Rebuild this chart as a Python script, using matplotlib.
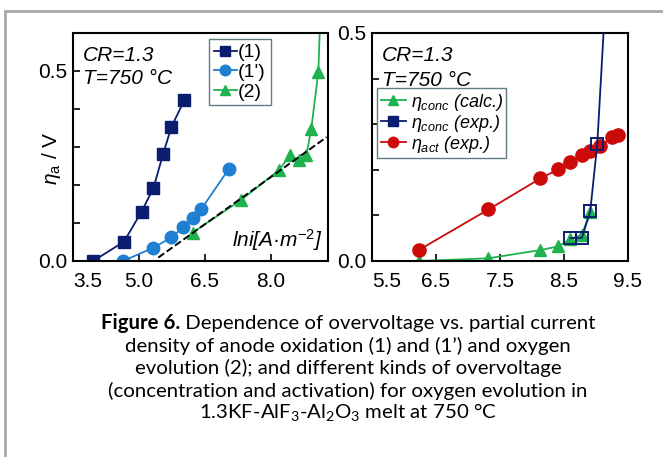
import matplotlib
matplotlib.use("Agg")
import matplotlib.pyplot as plt
from matplotlib.lines import Line2D
from matplotlib.patches import Rectangle
from matplotlib.transforms import ScaledTranslation

plt.rcParams['font.family'] = ['Liberation Sans', 'DejaVu Sans']
plt.rcParams['mathtext.fontset'] = 'custom'
plt.rcParams['mathtext.it'] = 'Liberation Sans:italic'
plt.rcParams['mathtext.rm'] = 'Liberation Sans'

# ---- left panel: eta_a vs ln i
x1 = [3.96, 4.66, 5.06, 5.33, 5.55, 5.74, 6.03]
y1 = [0.0, 0.051, 0.130, 0.192, 0.282, 0.353, 0.423]

x1p = [4.64, 5.33, 5.74, 6.01, 6.23, 6.42, 7.05]
y1p = [0.0, 0.035, 0.062, 0.090, 0.113, 0.137, 0.243]

x2 = [6.22, 7.33, 8.19, 8.43, 8.64, 8.81, 8.92, 9.08]
y2 = [0.075, 0.161, 0.240, 0.278, 0.265, 0.280, 0.348, 0.498]
x2_tail = [9.14]
y2_tail = [0.70]

tafel_x = [5.44, 9.27]
tafel_y = [0.009, 0.326]

left_xticks = [3.5, 5.0, 6.5, 8.0]

# ---- right panel: kinds of overvoltage
xc_calc = [6.23, 7.32, 8.13, 8.41, 8.60, 8.78, 8.91]
yc_calc = [0.0, 0.006, 0.024, 0.032, 0.048, 0.058, 0.108]

xc_exp = [8.60, 8.78, 8.91, 9.02]
yc_exp = [0.050, 0.051, 0.109, 0.257]
xc_tail = [9.15]
yc_tail = [0.58]

xa_exp = [6.23, 7.32, 8.13, 8.41, 8.60, 8.78, 8.91, 9.07, 9.25, 9.35]
ya_exp = [0.024, 0.113, 0.181, 0.201, 0.218, 0.233, 0.242, 0.253, 0.271, 0.277]

right_xticks = [5.5, 6.5, 7.5, 8.5, 9.5]

navy = '#0b1d6e'
lblue = '#1f7fd0'
green = '#1fb24f'
red = '#cc0a0a'

fig = plt.figure(figsize=(6.63, 4.57), dpi=100)
fig.patches.append(Rectangle((5 / 663, -0.1), 1.2, 1 - 11 / 457 + 0.1,
                             transform=fig.transFigure, fill=False,
                             edgecolor='#a8a8a8', lw=2))

axL = fig.add_axes([73 / 663, 1 - 261 / 457, 255 / 663, 228 / 457])
axR = fig.add_axes([372 / 663, 1 - 261 / 457, 256 / 663, 228 / 457])

axL.plot(x1, y1, '-s', color=navy, ms=8.5, lw=1.3, label='(1)')
axL.plot(x1p, y1p, '-o', color=lblue, ms=9, lw=1.3, label="(1')")
axL.plot(x2 + x2_tail, y2 + y2_tail, '-^', color=green, ms=8.5, lw=1.3,
         markevery=list(range(len(x2))), label='(2)')
axL.plot(tafel_x, tafel_y, '--', color='black', lw=1.4, zorder=3)

axL.set_xlim(3.5, 9.3)
axL.set_ylim(0, 0.6)
axL.set_xticks(left_xticks)
axL.set_xticklabels([f'{v:.1f}' for v in left_xticks])
axL.set_yticks([0.0, 0.5])
axL.set_yticklabels(['0.0', '0.5'])
axL.set_yticks([0.1, 0.2, 0.3, 0.4], minor=True)
axL.set_ylabel(r'$\eta_\mathrm{a}$ / V', fontsize=15)
axL.yaxis.set_label_coords(-0.04, 0.45)

axL.text(0.04, 0.9, 'CR=1.3', transform=axL.transAxes, fontsize=15,
         style='italic', va='center')
axL.text(0.04, 0.8, 'T=750 °C', transform=axL.transAxes, fontsize=15,
         style='italic', va='center')
axL.text(0.98, 0.09, r'lni[A·m$^{-2}$]', transform=axL.transAxes,
         fontsize=15, style='italic', ha='right', va='center')

legL = axL.legend(loc='upper left', bbox_to_anchor=(0.533, 0.974),
                  borderaxespad=0, fontsize=14, handlelength=1.2,
                  handletextpad=0.05, labelspacing=0.1, borderpad=0.25,
                  fancybox=False, framealpha=1, edgecolor='#5d7f80',
                  markerscale=0.85)
legL.get_frame().set_linewidth(1.0)

axR.plot(xc_calc, yc_calc, '-^', color=green, ms=8.5, lw=1.3, zorder=2)
axR.plot(xa_exp, ya_exp, '-o', color=red, ms=9.5, lw=1.3, zorder=3)
axR.plot(xc_exp + xc_tail, yc_exp + yc_tail, '-s', color=navy, ms=9,
         lw=1.3, mfc='none', mew=1.4, markevery=list(range(len(xc_exp))),
         zorder=4)

axR.set_xlim(5.5, 9.5)
axR.set_ylim(0, 0.5)
axR.set_xticks(right_xticks)
axR.set_xticklabels([f'{v:.1f}' for v in right_xticks])
axR.set_yticks([0.0, 0.5])
axR.set_yticklabels(['0.0', '0.5'])
axR.set_yticks([0.1, 0.2, 0.3, 0.4], minor=True)

axR.text(0.04, 0.9, 'CR=1.3', transform=axR.transAxes, fontsize=15,
         style='italic', va='center')
axR.text(0.04, 0.79, 'T=750 °C', transform=axR.transAxes, fontsize=15,
         style='italic', va='center')

handles = [
    Line2D([], [], color=green, marker='^', ms=7.5, lw=1.3),
    Line2D([], [], color=navy, marker='s', ms=7, lw=1.3),
    Line2D([], [], color=red, marker='o', ms=7.5, lw=1.3),
]
labels = [r'$\eta_{conc}$ (calc.)', r'$\eta_{conc}$ (exp.)',
          r'$\eta_{act}$ (exp.)']
legR = axR.legend(handles, labels, loc='upper left',
                  bbox_to_anchor=(0.02, 0.758), borderaxespad=0,
                  prop={'size': 13, 'style': 'italic'}, handlelength=1.4,
                  handletextpad=0.25, labelspacing=0.0, borderpad=0.2,
                  fancybox=False, framealpha=1, edgecolor='#5d7f80')
legR.get_frame().set_linewidth(1.0)

for ax in (axL, axR):
    for sp in ax.spines.values():
        sp.set_linewidth(1.5)
    ax.tick_params(which='both', direction='in', top=False, right=False,
                   labelsize=15, width=1.2, length=5, pad=4)
    ax.tick_params(axis='x', length=5, pad=8)
    # first x label sits a bit right of its tick in the original
    first = ax.get_xticklabels()[0]
    first.set_transform(first.get_transform() +
                        ScaledTranslation(0.15, 0, fig.dpi_scale_trans))

# caption
cap_font = ['Lato', 'DejaVu Sans']
cap_size = 14.7
cx = 348 / 663
line_h = 22.5 / 457
y0 = 1 - 323 / 457
renderer = fig.canvas.get_renderer()
bold = fig.text(0, y0, 'Figure 6.', fontsize=cap_size, fontweight='bold',
                family=cap_font, ha='left', va='center')
rest = fig.text(0, y0, ' Dependence of overvoltage vs. partial current',
                fontsize=cap_size, family=cap_font, ha='left', va='center')
wb = bold.get_window_extent(renderer).width
wr = rest.get_window_extent(renderer).width
start = cx * 663 - (wb + wr) / 2
bold.set_x(start / 663)
rest.set_x((start + wb) / 663)

cap_lines = [
    "density of anode oxidation (1) and (1\u2019) and oxygen",
    "evolution (2); and different kinds of overvoltage",
    "(concentration and activation) for oxygen evolution in",
    r"1.3KF-AlF$_\mathregular{3}$-Al$_\mathregular{2}$O$_\mathregular{3}$ melt at 750 °C",
]
for i, s in enumerate(cap_lines):
    fig.text(cx, y0 - (i + 1) * line_h, s, fontsize=cap_size, family=cap_font,
             ha='center', va='center')

fig.savefig('out.png', dpi=100)
